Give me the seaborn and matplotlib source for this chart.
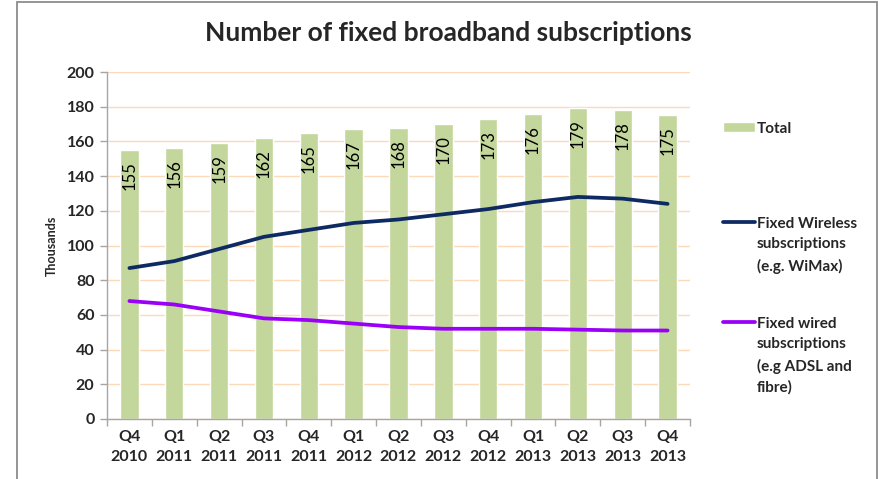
import numpy as np
import pandas as pd
import matplotlib
matplotlib.use("Agg")
import matplotlib.pyplot as plt
import seaborn as sns
from matplotlib.patches import Rectangle

quarters = ["Q4", "Q1", "Q2", "Q3", "Q4", "Q1", "Q2", "Q3", "Q4", "Q1", "Q2", "Q3", "Q4"]
years = ["2010", "2011", "2011", "2011", "2011", "2012", "2012", "2012", "2012",
         "2013", "2013", "2013", "2013"]
total = [155, 156, 159, 162, 165, 167, 168, 170, 173, 176, 179, 178, 175]
wireless = [87, 91, 98, 105, 109, 113, 115, 118, 121, 125, 128, 127, 124]
wired = [68, 66, 62, 58, 57, 55, 53, 52, 52, 52, 51.5, 51, 51]
yticks = [0, 20, 40, 60, 80, 100, 120, 140, 160, 180, 200]
series_names = ["Total", "Fixed Wireless\nsubscriptions\n(e.g. WiMax)",
                "Fixed wired\nsubscriptions\n(e.g ADSL and\nfibre)"]

labels = [f"{q}\n{y}" for q, y in zip(quarters, years)]
df = pd.DataFrame({"period": labels, "total": total, "wireless": wireless,
                   "wired": wired, "pos": np.arange(len(labels))})

sns.set_theme(style="white")
FONT = "Lato"
plt.rcParams["font.family"] = [FONT, "DejaVu Sans"]

BAR = "#C3D69B"
NAVY = "#0E2A62"
PURPLE = "#9A00F8"
GRID = "#FCD9B8"

fig = plt.figure(figsize=(8.79, 4.79), dpi=100)
ax = fig.add_axes([107 / 879, 1 - 419 / 479, (690 - 107) / 879, (419 - 72) / 479])

sns.barplot(data=df, x="period", y="total", color=BAR, width=0.41, ax=ax,
            saturation=1, label=series_names[0], zorder=2)
sns.lineplot(data=df, x="pos", y="wireless", color=NAVY, linewidth=2.7, ax=ax,
             label=series_names[1], zorder=3)
sns.lineplot(data=df, x="pos", y="wired", color=PURPLE, linewidth=2.7, ax=ax,
             label=series_names[2], zorder=3)

for p, v in zip(ax.patches, total):
    ax.annotate(str(v), (p.get_x() + p.get_width() / 2, p.get_height()),
                xytext=(0, -8), textcoords="offset points", rotation=90,
                ha="center", va="top", fontsize=12, color="black", zorder=4)

ax.set_xlim(-0.5, len(labels) - 0.5)
ax.set_ylim(0, 200)
ax.set_yticks(yticks)
ax.set_yticklabels([str(t) for t in yticks], fontsize=11.5, fontweight="bold")
ax.set_xticks(np.arange(len(labels)))
ax.set_xticklabels(labels, fontsize=11.5, fontweight="bold", linespacing=1.5)
ax.set_xticks(np.arange(len(labels) + 1) - 0.5, minor=True)
ax.tick_params(axis="x", which="major", length=0, pad=8)
ax.tick_params(axis="x", which="minor", length=5, color="#A6A6A6", width=1, direction="out", bottom=True)
ax.tick_params(axis="y", length=5, color="#A6A6A6", width=1, direction="out", left=True, pad=4)
ax.yaxis.grid(True, color=GRID, linewidth=1, zorder=0)
ax.set_axisbelow(True)
for s in ["top", "right"]:
    ax.spines[s].set_visible(False)
for s in ["left", "bottom"]:
    ax.spines[s].set_color("#A6A6A6")
    ax.spines[s].set_linewidth(1)
ax.set_xlabel("")
ax.set_ylabel("Thousands", fontsize=9, fontweight="bold", labelpad=6)

handles, labs = ax.get_legend_handles_labels()
hmap = dict(zip(labs, handles))
if ax.legend_:
    ax.legend_.remove()

anchors = [(0.8135, 1 - 114 / 479), (0.8135, 1 - 209 / 479), (0.8135, 1 - 309 / 479)]
for name, a in zip(series_names, anchors):
    leg = fig.legend([hmap[name]], [name], loc="upper left", bbox_to_anchor=a, frameon=False,
                     borderpad=0, handlelength=2.1, handletextpad=0.15,
                     prop={"family": FONT, "weight": "bold", "size": 11})
    for t in leg.get_texts():
        t.set_linespacing(1.6)
    for col in leg._legend_handle_box.get_children():
        for hp in col.get_children():
            hp.align = "top"

fig.text(448 / 879, 1 - 33 / 479, "Number of fixed broadband subscriptions",
         ha="center", va="center", fontsize=19, fontweight="bold")

fig.patches.append(Rectangle((17 / 879, -0.05), (877 - 17) / 879, 1.05 - 2.5 / 479,
                             transform=fig.transFigure, fill=False,
                             edgecolor="#8C8C8C", linewidth=1.3))

fig.savefig("out.png", dpi=100)
